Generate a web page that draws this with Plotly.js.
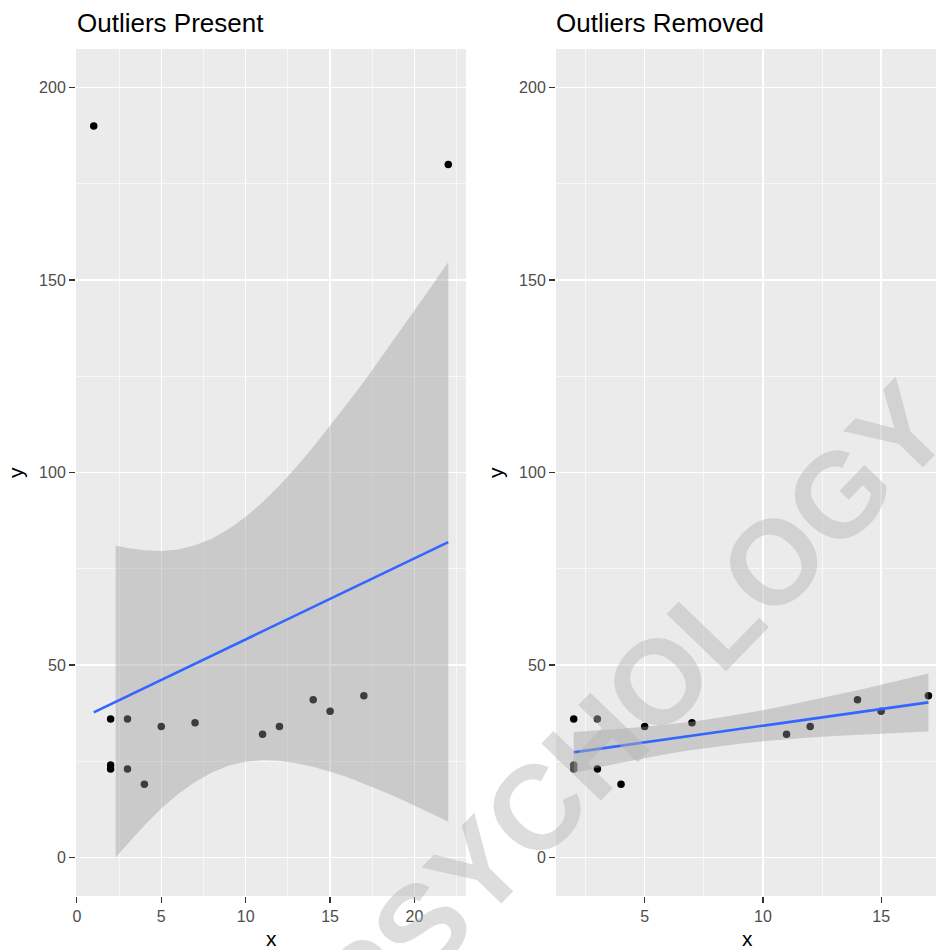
<!DOCTYPE html>
<html>
<head>
<meta charset="utf-8">
<script src="https://cdn.plot.ly/plotly-3.0.1.min.js"></script>
<style>html,body{margin:0;padding:0;background:#fff;}#chart{width:936px;height:950px;}</style>
</head>
<body>
<div id="chart"></div>
<script>
// ---- data ----
const leftX = [1, 2, 2, 2, 3, 3, 4, 5, 7, 11, 12, 14, 15, 17, 22];
const leftY = [190, 36, 23, 24, 36, 23, 19, 34, 35, 32, 34, 41, 38, 42, 180];
const rightX = [2, 2, 2, 3, 3, 4, 5, 7, 11, 12, 14, 15, 17];
const rightY = [36, 23, 24, 36, 23, 19, 34, 35, 32, 34, 41, 38, 42];

const leftFitX = [1, 22];
const leftFitY = [37.7, 81.9];
const rightFitX = [2, 17];
const rightFitY = [27.3, 40.3];

const leftBandX = [2.3, 3, 4, 5, 6, 7, 8, 9, 10, 11, 12, 13, 14, 15, 16, 17, 18, 19, 20, 21, 22];
const leftBandLo = [0, 3.5, 8.3, 12.7, 16.5, 19.6, 22.1, 23.9, 24.9, 25.3, 25.1, 24.5, 23.6, 22.3, 20.9, 19.2, 17.4, 15.5, 13.5, 11.4, 9.3];
const leftBandHi = [81.0, 80.4, 79.8, 79.6, 80.0, 81.1, 82.8, 85.3, 88.5, 92.3, 96.6, 101.4, 106.6, 112.1, 117.8, 123.6, 129.7, 135.8, 142.0, 148.3, 154.7];

const rightBandX = [2, 3, 4, 5, 6, 7, 8, 9, 10, 11, 12, 13, 14, 15, 16, 17];
const rightBandLo = [21.96, 23.32, 24.60, 25.82, 26.94, 27.94, 28.81, 29.55, 30.17, 30.70, 31.14, 31.53, 31.87, 32.18, 32.47, 32.73];
const rightBandHi = [32.60, 32.98, 33.42, 33.94, 34.56, 35.28, 36.15, 37.13, 38.25, 39.46, 40.74, 42.09, 43.47, 44.90, 46.35, 47.81];

const yTicks = [0, 50, 100, 150, 200];
const leftXTicks = [0, 5, 10, 15, 20];
const rightXTicks = [5, 10, 15];
const titles = ['Outliers Present', 'Outliers Removed'];
const watermark = 'PSYCHOLOGY';

// ---- helpers ----
function band(xs, lo, hi, xa, ya) {
  return {
    type: 'scatter', mode: 'lines', xaxis: xa, yaxis: ya,
    x: xs.concat(xs.slice().reverse()),
    y: hi.concat(lo.slice().reverse()),
    fill: 'toself', fillcolor: 'rgba(153,153,153,0.4)',
    line: {width: 0, color: 'rgba(0,0,0,0)'}, hoverinfo: 'skip'
  };
}
function pts(xs, ys, xa, ya) {
  return {type: 'scatter', mode: 'markers', x: xs, y: ys, xaxis: xa, yaxis: ya,
    marker: {color: '#000000', size: 7.5}, cliponaxis: true};
}
function fit(xs, ys, xa, ya) {
  return {type: 'scatter', mode: 'lines', x: xs, y: ys, xaxis: xa, yaxis: ya,
    line: {color: '#3366FF', width: 2.6}};
}

const data = [
  pts(leftX, leftY, 'x', 'y'),
  band(leftBandX, leftBandLo, leftBandHi, 'x', 'y'),
  fit(leftFitX, leftFitY, 'x', 'y'),
  pts(rightX, rightY, 'x2', 'y2'),
  band(rightBandX, rightBandLo, rightBandHi, 'x2', 'y2'),
  fit(rightFitX, rightFitY, 'x2', 'y2')
];

const FONT = 'Liberation Sans, Arial, Helvetica, sans-serif';
function axisBase(extra) {
  return Object.assign({
    ticks: 'outside', ticklen: 6, tickwidth: 1.2, tickcolor: '#333333',
    showgrid: true, gridcolor: '#FFFFFF', gridwidth: 1.3,
    zeroline: false, showline: false, fixedrange: true,
    tickfont: {family: FONT, size: 16, color: '#4D4D4D'},
    tickmode: 'array'
  }, extra);
}

const W = 936, H = 950, ML = 76, MR = 0, MT = 49, MB = 54;
const PW = W - ML - MR, PH = H - MT - MB;
const px = v => (v - ML) / PW;
const py = v => (H - MB - v) / PH;

const layout = {
  width: W, height: H,
  margin: {l: ML, r: MR, t: MT, b: MB, pad: 0},
  paper_bgcolor: '#FFFFFF', plot_bgcolor: '#EBEBEB',
  showlegend: false,
  font: {family: FONT},
  xaxis: axisBase({domain: [0, px(466)], range: [-0.05, 23.05], tickvals: leftXTicks, anchor: 'y',
    minor: {dtick: 2.5, tick0: 0, showgrid: true, gridcolor: '#FFFFFF', gridwidth: 0.6}}),
  yaxis: axisBase({domain: [0, 1], range: [-10, 210], tickvals: yTicks, anchor: 'x',
    minor: {dtick: 25, tick0: 0, showgrid: true, gridcolor: '#FFFFFF', gridwidth: 0.6}}),
  xaxis2: axisBase({domain: [px(556), 1], range: [1.25, 17.32], tickvals: rightXTicks, anchor: 'y2',
    minor: {dtick: 2.5, tick0: 0, showgrid: true, gridcolor: '#FFFFFF', gridwidth: 0.6}}),
  yaxis2: axisBase({domain: [0, 1], range: [-10, 210], tickvals: yTicks, anchor: 'x2',
    minor: {dtick: 25, tick0: 0, showgrid: true, gridcolor: '#FFFFFF', gridwidth: 0.6}}),
  annotations: [
    {text: titles[0], xref: 'paper', yref: 'paper', x: px(75), y: py(23), xanchor: 'left', yanchor: 'middle',
     showarrow: false, font: {family: FONT, size: 26, color: '#000000'}},
    {text: titles[1], xref: 'paper', yref: 'paper', x: px(554), y: py(23), xanchor: 'left', yanchor: 'middle',
     showarrow: false, font: {family: FONT, size: 26, color: '#000000'}},
    {text: 'x', xref: 'paper', yref: 'paper', x: px(271), y: py(938), xanchor: 'center', yanchor: 'middle',
     showarrow: false, font: {family: FONT, size: 21, color: '#000000'}},
    {text: 'x', xref: 'paper', yref: 'paper', x: px(747), y: py(938), xanchor: 'center', yanchor: 'middle',
     showarrow: false, font: {family: FONT, size: 21, color: '#000000'}},
    {text: 'y', xref: 'paper', yref: 'paper', x: px(15), y: py(473), xanchor: 'center', yanchor: 'middle',
     textangle: -90, showarrow: false, font: {family: FONT, size: 21, color: '#000000'}},
    {text: 'y', xref: 'paper', yref: 'paper', x: px(495), y: py(473), xanchor: 'center', yanchor: 'middle',
     textangle: -90, showarrow: false, font: {family: FONT, size: 21, color: '#000000'}},
    {text: watermark, xref: 'paper', yref: 'paper', x: px(632), y: py(708), xanchor: 'center', yanchor: 'middle',
     textangle: -46, showarrow: false,
     font: {family: FONT, size: 120, color: 'rgba(180,180,180,0.45)', weight: 'bold'}}
  ]
};

Plotly.newPlot('chart', data, layout, {displayModeBar: false, staticPlot: true});
</script>
</body>
</html>
